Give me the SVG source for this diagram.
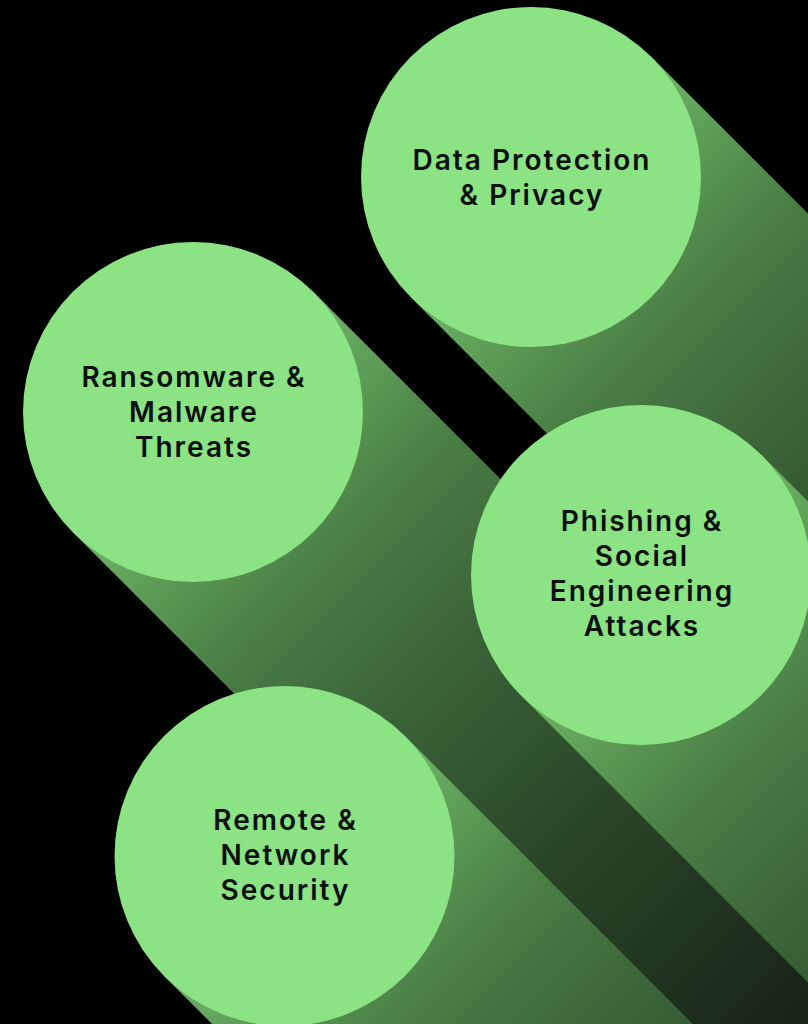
<svg xmlns="http://www.w3.org/2000/svg" xmlns:xlink="http://www.w3.org/1999/xlink" width="808" height="1024" viewBox="0 0 808 1024">
  <defs>
    <style>
      .bg { fill: #000000; }
      .disc { fill: #8be384; }
      .label { font-family: Inter, "Noto Sans", "Liberation Sans", sans-serif; font-weight: 600; font-size: 28px; letter-spacing: 2px; fill: #0a0f0a; text-anchor: middle; }
    </style>
    <linearGradient id="g1" gradientUnits="userSpaceOnUse" x1="531" y1="177" x2="1309" y2="955">
      <stop offset="0" stop-color="#6fb868"/>
      <stop offset="0.091" stop-color="#5c9a55"/>
      <stop offset="0.182" stop-color="#4a7e45"/>
      <stop offset="0.318" stop-color="#3b6438"/>
      <stop offset="0.5" stop-color="#2b4829"/>
      <stop offset="0.79" stop-color="#172316"/>
      <stop offset="1" stop-color="#0f170e"/>
    </linearGradient>
    <linearGradient id="g2" xlink:href="#g1" x1="193" y1="412" x2="971" y2="1190"/>
    <linearGradient id="g3" xlink:href="#g1" x1="641" y1="575" x2="1419" y2="1353"/>
    <linearGradient id="g4" xlink:href="#g1" x1="284.5" y1="856" x2="1062.5" y2="1634"/>
  </defs>
  <rect class="bg" x="0" y="0" width="808" height="1024"/>

  <g id="connectors"></g>

  <g id="node-data-protection">
    <polygon fill="url(#g1)" points="651.2,56.8 1851.2,1256.8 1610.8,1497.2 410.8,297.2"/>
    <circle class="disc" cx="531" cy="177" r="170"/>
    <text class="label" x="532" y="170">Data Protection</text>
    <text class="label" x="532" y="205">&amp; Privacy</text>
  </g>

  <g id="node-ransomware">
    <polygon fill="url(#g2)" points="313.2,291.8 1513.2,1491.8 1272.8,1732.2 72.8,532.2"/>
    <circle class="disc" cx="193" cy="412" r="170"/>
    <text class="label" x="194" y="387">Ransomware &amp;</text>
    <text class="label" x="194" y="422">Malware</text>
    <text class="label" x="194" y="457">Threats</text>
  </g>

  <g id="node-phishing">
    <polygon fill="url(#g3)" points="761.2,454.8 1961.2,1654.8 1720.8,1895.2 520.8,695.2"/>
    <circle class="disc" cx="641" cy="575" r="170"/>
    <text class="label" x="642" y="531">Phishing &amp;</text>
    <text class="label" x="642" y="566">Social</text>
    <text class="label" x="642" y="601">Engineering</text>
    <text class="label" x="642" y="636">Attacks</text>
  </g>

  <g id="node-remote">
    <polygon fill="url(#g4)" points="404.7,735.8 1604.7,1935.8 1364.3,2176.2 164.3,976.2"/>
    <circle class="disc" cx="284.5" cy="856" r="170"/>
    <text class="label" x="285.5" y="830">Remote &amp;</text>
    <text class="label" x="285.5" y="865">Network</text>
    <text class="label" x="285.5" y="900">Security</text>
  </g>
</svg>
